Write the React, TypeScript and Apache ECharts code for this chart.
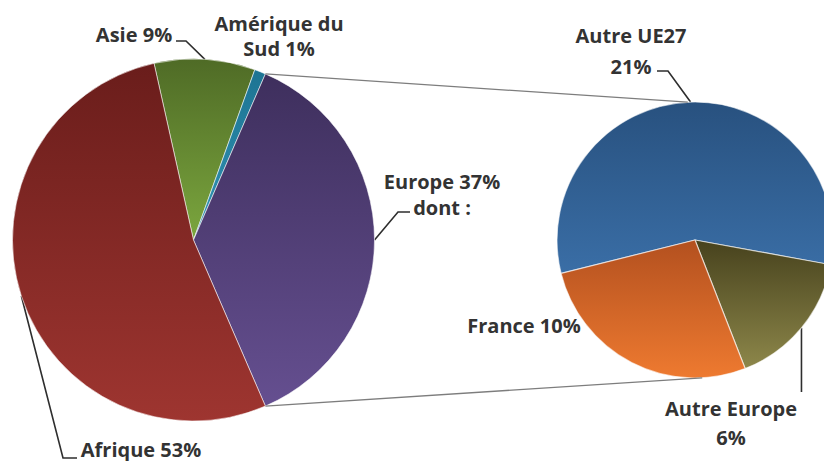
import React, { useEffect, useRef } from 'react';
import * as echarts from 'echarts';

// ---------- data ----------
const mainNames = ['Asie', 'Amérique du\nSud', 'Europe', 'Afrique'];
const mainValues = [9, 1, 37, 53];
const mainSuffix = ['', '', '\ndont :', ''];
const expandedIndex = 2; // Europe is split into the secondary pie

const subNames = ['Autre UE27', 'Autre Europe', 'France'];
const subValues = [21, 6, 10];
const subSep = ['\n', '\n', ' '];

// ---------- layout / style ----------
const W = 824;
const H = 461;
const mainCenter = [193.5, 240];
const mainR = 181;
const subCenter = [695, 240];
const subR = 138;
const subStartClock = 256; // clockwise from 12 o'clock

const mainColors = [
  ['#4f6b26', '#7ba63e'],
  ['#1d7493', '#3193b3'],
  ['#3e2f5d', '#654f90'],
  ['#6a1d1b', '#9e3530'],
];
const subColors = [
  ['#28517f', '#3a6ea6'],
  ['#47421d', '#8d874a'],
  ['#b3501f', '#ee7a30'],
];

const mainLabelCfg: any[] = [
  { x: 134, y: 34, lh: 24, elbow: [186, 41], end: [176, 41] },
  { x: 279, y: 36, lh: 25 },
  { x: 442, y: 194, lh: 26, elbow: [398, 212], end: [410, 212] },
  { x: 141, y: 449, lh: 24, elbow: [63, 458], end: [77, 458] },
];
const subLabelCfg: any[] = [
  { x: 631, y: 51, lh: 31, elbow: [668, 71], end: [657, 71] },
  { x: 731, y: 423, lh: 29, vertical: 392 },
  { x: 524, y: 325, lh: 24 },
];

const textColor = '#333333';
const labelFont = { fontFamily: 'Open Sans', fontWeight: 'bold' as const, fontSize: 20, color: textColor };

function edge(center: number[], r: number, clockDeg: number) {
  const a = (clockDeg * Math.PI) / 180;
  return [center[0] + r * Math.sin(a), center[1] - r * Math.cos(a)];
}

function grad(c: string[]) {
  return {
    type: 'linear',
    x: 0, y: 0, x2: 0, y2: 1,
    colorStops: [
      { offset: 0, color: c[0] },
      { offset: 1, color: c[1] },
    ],
  };
}

export default function App() {
  const ref = useRef<HTMLDivElement>(null);

  useEffect(() => {
    if (!ref.current) return;
    const chart = echarts.init(ref.current, null, { renderer: 'svg', width: W, height: H });

    // main pie angles: the expanded slice is centred on 3 o'clock
    const mainTotal = mainValues.reduce((a, b) => a + b, 0);
    const spans = mainValues.map((v) => (v / mainTotal) * 360);
    const before = spans.slice(0, expandedIndex).reduce((a, b) => a + b, 0);
    const expStart = 90 - spans[expandedIndex] / 2;
    const mainStartClock = expStart - before;
    const mainMid: number[] = [];
    let acc = mainStartClock;
    spans.forEach((s) => {
      mainMid.push(acc + s / 2);
      acc += s;
    });

    const subTotal = subValues.reduce((a, b) => a + b, 0);
    const subSpans = subValues.map((v) => (v / subTotal) * 360);
    const subMid: number[] = [];
    let acc2 = subStartClock;
    subSpans.forEach((s) => {
      subMid.push(acc2 + s / 2);
      acc2 += s;
    });

    const mainEdges = mainMid.map((m) => edge(mainCenter, mainR, m));
    const subEdges = subMid.map((m) => edge(subCenter, subR, m));

    const pA = edge(mainCenter, mainR, expStart);
    const pB = edge(mainCenter, mainR, expStart + spans[expandedIndex]);
    const qA = edge(subCenter, subR, -3);
    const qB = edge(subCenter, subR, 177);

    const lineStyle = { color: '#2e2e2e', width: 1.6 };

    chart.setOption({
      animation: false,
      backgroundColor: '#ffffff',
      series: [
        {
          type: 'pie',
          center: mainCenter,
          radius: mainR,
          startAngle: 90 - mainStartClock,
          clockwise: true,
          avoidLabelOverlap: false,
          silent: true,
          label: { show: true, position: 'outside', ...labelFont },
          labelLine: { show: true, length: 10, length2: 10, lineStyle },
          itemStyle: { borderColor: 'rgba(255,255,255,0.55)', borderWidth: 1 },
          emphasis: { disabled: true },
          data: mainValues.map((v, i) => ({
            name: mainNames[i],
            value: v,
            itemStyle: { color: grad(mainColors[i]) },
            label: {
              lineHeight: mainLabelCfg[i].lh,
              formatter: (p: any) => `${p.name} ${p.value}%${mainSuffix[i]}`,
            },
            labelLine: { show: !!mainLabelCfg[i].elbow },
          })),
          labelLayout: (p: any) => {
            const c = mainLabelCfg[p.dataIndex];
            const res: any = { x: c.x, y: c.y, align: 'center', verticalAlign: 'middle' };
            if (c.elbow) res.labelLinePoints = [mainEdges[p.dataIndex], c.elbow, c.end];
            return res;
          },
        },
        {
          type: 'pie',
          center: subCenter,
          radius: subR,
          startAngle: 90 - subStartClock,
          clockwise: true,
          avoidLabelOverlap: false,
          silent: true,
          label: { show: true, position: 'outside', ...labelFont },
          labelLine: { show: true, length: 10, length2: 10, lineStyle },
          itemStyle: { borderColor: 'rgba(255,255,255,0.6)', borderWidth: 1.2 },
          emphasis: { disabled: true },
          data: subValues.map((v, i) => ({
            name: subNames[i],
            value: v,
            itemStyle: { color: grad(subColors[i]) },
            label: {
              lineHeight: subLabelCfg[i].lh,
              formatter: (p: any) => `${p.name}${subSep[i]}${p.value}%`,
            },
            labelLine: { show: !!(subLabelCfg[i].elbow || subLabelCfg[i].vertical) },
          })),
          labelLayout: (p: any) => {
            const c = subLabelCfg[p.dataIndex];
            const res: any = { x: c.x, y: c.y, align: 'center', verticalAlign: 'middle' };
            const e = subEdges[p.dataIndex];
            if (c.elbow) res.labelLinePoints = [e, c.elbow, c.end];
            if (c.vertical) res.labelLinePoints = [e, [e[0], c.vertical], [e[0], c.vertical]];
            return res;
          },
        },
      ],
      graphic: [
        {
          type: 'line',
          silent: true,
          z: 10,
          shape: { x1: pA[0], y1: pA[1], x2: qA[0], y2: qA[1] },
          style: { stroke: '#7d7d7d', lineWidth: 1.3 },
        },
        {
          type: 'line',
          silent: true,
          z: 10,
          shape: { x1: pB[0], y1: pB[1], x2: qB[0], y2: qB[1] },
          style: { stroke: '#7d7d7d', lineWidth: 1.3 },
        },
      ],
    });

    return () => chart.dispose();
  }, []);

  return (
    <div
      ref={ref}
      style={{ position: 'fixed', left: 0, top: 0, width: W, height: H, background: '#fff' }}
    />
  );
}
